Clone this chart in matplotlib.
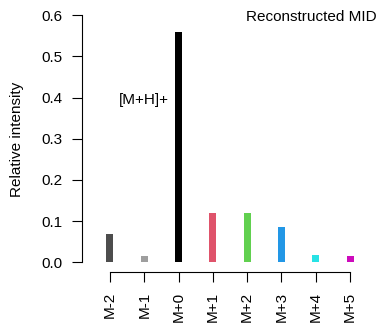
import matplotlib
matplotlib.use("Agg")
import matplotlib.pyplot as plt

categories = ["M-2", "M-1", "M+0", "M+1", "M+2", "M+3", "M+4", "M+5"]
values = [0.068, 0.015, 0.560, 0.119, 0.119, 0.085, 0.017, 0.015]
colors = ["#4D4D4D", "#9E9E9E", "#000000", "#DF536B", "#61D04F", "#2297E6", "#28E2E5", "#CD0BBC"]
yticks = [0.0, 0.1, 0.2, 0.3, 0.4, 0.5, 0.6]

plt.rcParams['font.family'] = ['Liberation Sans', 'DejaVu Sans']
W, H = 384, 336
fig = plt.figure(figsize=(W/100, H/100), dpi=100)
left, right, top, bottom = 82, 372, 5.5, 272
ax = fig.add_axes([left/W, 1-bottom/H, (right-left)/W, (bottom-top)/H])

x = list(range(1, len(categories)+1))
ax.bar(x, values, width=7/34.29, color=colors, linewidth=0)

ax.set_ylim(-0.024, 0.624)
ax.set_xlim(1-28/34.29, 8+22/34.29)
for s in ["top", "right"]:
    ax.spines[s].set_visible(False)
ax.spines["left"].set_bounds(0, 0.6)
ax.spines["bottom"].set_bounds(1, 8)
for s in ["left", "bottom"]:
    ax.spines[s].set_linewidth(0.8)
ax.set_yticks(yticks)
ax.set_yticklabels([f"{v:.1f}" for v in yticks])
ax.set_xticks(x)
ax.set_xticklabels(categories, rotation=90)
ax.tick_params(length=7.2, width=0.8, pad=7, labelsize=11)

ax.text(2, 0.395, "[M+H]+", ha="center", va="center", fontsize=11)
fig.text(377/W, 1-17/H, "Reconstructed MID", ha="right", va="center", fontsize=11)
fig.text(17/W, 1-139/H, "Relative intensity", rotation=90, ha="center", va="center", fontsize=11)

fig.savefig("out.png", dpi=100)
